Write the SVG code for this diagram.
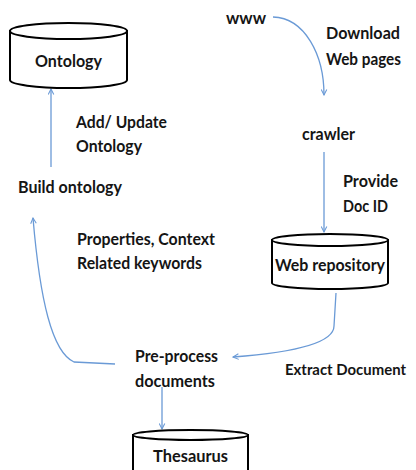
<svg xmlns="http://www.w3.org/2000/svg" width="416" height="470" viewBox="0 0 416 470">
  <style>
    .t { font-family: Lato, "Liberation Sans", sans-serif; font-size: 17.5px; font-weight: 700; fill: #151515; }
    .cyl { fill: #fff; stroke: #000; stroke-width: 2; }
    .c { fill: none; stroke: #6a9ad6; stroke-width: 1.3; marker-end: url(#ah); }
  </style>
  <defs>
    <marker id="ah" viewBox="0 0 10 10" refX="9" refY="5" markerWidth="7" markerHeight="7" markerUnits="userSpaceOnUse" orient="auto">
      <path d="M1,1 L9,5 L1,9" fill="none" stroke="#6a9ad6" stroke-width="1.5"/>
    </marker>
  </defs>
  <rect width="416" height="470" fill="#fff"/>

  <g id="connectors">
    <path class="c" d="M51,167 L51,89"/>
    <path class="c" d="M273,17 C305,18 324,55 324,95"/>
    <path class="c" d="M324,152 L324,232"/>
    <path class="c" d="M336,293 L334,326 C334,342 300,352 233,357"/>
    <path class="c" d="M115,364 L74,362 C52,352 40,300 33,218"/>
    <path class="c" d="M162,387 L162,429"/>
  </g>

  <g id="ontology">
    <path class="cyl" d="M10,31 L10,80 A58.5,8 0 0 0 127,80 L127,31 Z"/>
    <ellipse class="cyl" cx="68.5" cy="31" rx="58.5" ry="8"/>
    <text class="t" x="35" y="67" textLength="67" lengthAdjust="spacingAndGlyphs">Ontology</text>
  </g>

  <g id="add-update-label">
    <text class="t" x="76" y="128" textLength="91" lengthAdjust="spacingAndGlyphs">Add/ Update</text>
    <text class="t" x="76" y="152" textLength="66" lengthAdjust="spacingAndGlyphs">Ontology</text>
  </g>

  <g id="build-ontology">
    <text class="t" x="18" y="193" textLength="104" lengthAdjust="spacingAndGlyphs">Build ontology</text>
  </g>

  <g id="properties-label">
    <text class="t" x="77" y="245" textLength="138" lengthAdjust="spacingAndGlyphs">Properties, Context</text>
    <text class="t" x="77" y="269" textLength="125" lengthAdjust="spacingAndGlyphs">Related keywords</text>
  </g>

  <g id="www">
    <text class="t" x="226" y="24" textLength="40" lengthAdjust="spacingAndGlyphs">www</text>
  </g>

  <g id="download-label">
    <text class="t" x="326" y="39" textLength="74" lengthAdjust="spacingAndGlyphs">Download</text>
    <text class="t" x="326" y="65" textLength="75" lengthAdjust="spacingAndGlyphs">Web pages</text>
  </g>

  <g id="crawler">
    <text class="t" x="302" y="140" textLength="53" lengthAdjust="spacingAndGlyphs">crawler</text>
  </g>

  <g id="provide-label">
    <text class="t" x="343" y="187" textLength="55" lengthAdjust="spacingAndGlyphs">Provide</text>
    <text class="t" x="343" y="212" textLength="45" lengthAdjust="spacingAndGlyphs">Doc ID</text>
  </g>

  <g id="web-repository">
    <path class="cyl" d="M272,240 L272,283 A58,6 0 0 0 388,283 L388,240 Z"/>
    <ellipse class="cyl" cx="330" cy="240" rx="58" ry="6"/>
    <text class="t" x="275" y="271" textLength="110" lengthAdjust="spacingAndGlyphs">Web repository</text>
  </g>

  <g id="extract-label">
    <text class="t" x="285" y="375" style="font-size:16px" textLength="121" lengthAdjust="spacingAndGlyphs">Extract Document</text>
  </g>

  <g id="pre-process">
    <text class="t" x="135" y="362" textLength="83" lengthAdjust="spacingAndGlyphs">Pre-process</text>
    <text class="t" x="135" y="387" textLength="80" lengthAdjust="spacingAndGlyphs">documents</text>
  </g>

  <g id="thesaurus">
    <path class="cyl" d="M133,435 L133,480 L248,480 L248,435 Z"/>
    <ellipse class="cyl" cx="190.5" cy="435" rx="57.5" ry="5"/>
    <text class="t" x="153" y="462" textLength="75" lengthAdjust="spacingAndGlyphs">Thesaurus</text>
  </g>
</svg>
